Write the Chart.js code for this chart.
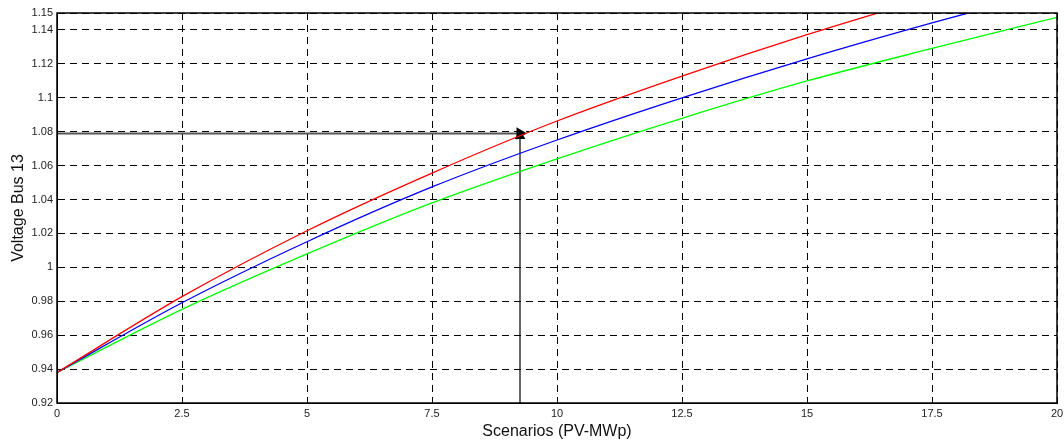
<!DOCTYPE html>
<html>
<head>
<meta charset="utf-8">
<script src="https://cdn.jsdelivr.net/npm/chart.js@4/dist/chart.umd.min.js"></script>
<style>
  body { margin: 0; background: #fff; }
  #wrap { width: 1064px; height: 441px; }
</style>
</head>
<body>
<div id="wrap"><canvas id="chart"></canvas></div>
<script>
// PV size (MWp) where the curves were read
const pvSizes = [0, 2.5, 5, 7.5, 10, 12.5, 15, 17.5, 20];

// voltage at bus 13 for the three cases
const redVolts   = [0.938, 0.9827, 1.0216, 1.0556, 1.0863, 1.1128, 1.1372, 1.1595, 1.181];
const blueVolts  = [0.938, 0.9791, 1.0151, 1.0474, 1.0751, 1.1000, 1.1230, 1.1442, 1.164];
const greenVolts = [0.938, 0.9752, 1.0079, 1.0380, 1.0640, 1.0879, 1.1099, 1.1291, 1.1474];

// marked operating point
const markX = 9.26;
const markY = 1.079;

const xTicks = [0, 2.5, 5, 7.5, 10, 12.5, 15, 17.5, 20];
const yTicks = [0.92, 0.94, 0.96, 0.98, 1, 1.02, 1.04, 1.06, 1.08, 1.1, 1.12, 1.14, 1.15];

const toPoints = (ys) => pvSizes.map((x, i) => ({ x, y: ys[i] }));

const curve = (data, color) => ({
  data: toPoints(data),
  borderColor: color,
  borderWidth: 1.3,
  pointRadius: 0,
  cubicInterpolationMode: 'monotone',
  fill: false,
});

// box around the plot area, like MATLAB "box on"
const frame = {
  id: 'frame',
  afterDraw(chart) {
    const { ctx, chartArea: a } = chart;
    ctx.save();
    ctx.strokeStyle = '#000';
    ctx.lineWidth = 1.5;
    ctx.strokeRect(a.left, a.top, a.right - a.left, a.bottom - a.top);
    ctx.restore();
  },
};

const font = { family: '"Liberation Sans", Arial, sans-serif', size: 11 };
const titleFont = { family: '"Liberation Sans", Arial, sans-serif', size: 16 };

new Chart(document.getElementById('chart'), {
  type: 'line',
  data: {
    datasets: [
      curve(redVolts, '#ff0000'),
      curve(blueVolts, '#0000ff'),
      curve(greenVolts, '#00ff00'),
      {
        // horizontal arrow to the red curve
        data: [{ x: 0, y: markY }, { x: markX, y: markY }],
        borderColor: '#555',
        borderWidth: 2,
        pointRadius: [0, 5],
        pointStyle: 'triangle',
        rotation: 90,
        pointBackgroundColor: '#000',
        pointBorderColor: '#000',
      },
      {
        // vertical arrow from the axis
        data: [{ x: markX, y: 0.92 }, { x: markX, y: markY - 0.0015 }],
        borderColor: '#000',
        borderWidth: 1.2,
        pointRadius: [0, 5],
        pointStyle: 'triangle',
        rotation: 0,
        pointBackgroundColor: '#000',
        pointBorderColor: '#000',
      },
    ],
  },
  options: {
    responsive: true,
    maintainAspectRatio: false,
    animation: false,
    layout: { padding: { top: 13, right: 0, left: 0, bottom: 0 } },
    plugins: {
      legend: { display: false },
      tooltip: { enabled: false },
    },
    scales: {
      x: {
        type: 'linear',
        min: 0,
        max: 20,
        afterBuildTicks: (s) => { s.ticks = xTicks.map((v) => ({ value: v })); },
        afterFit: (s) => { s.paddingLeft = 0; s.paddingRight = 0; s.height = 38; },
        ticks: { color: '#222', font, padding: 4, callback: (v) => String(v) },
        grid: { color: '#000', lineWidth: 1, drawTicks: false },
        border: { dash: [7, 5], color: '#000' },
        title: { display: true, text: 'Scenarios (PV-MWp)', color: '#111', font: titleFont, padding: { top: 0, bottom: 0 } },
      },
      y: {
        type: 'linear',
        min: 0.92,
        max: 1.15,
        afterBuildTicks: (s) => { s.ticks = yTicks.map((v) => ({ value: v })); },
        afterFit: (s) => { s.width = 57; },
        ticks: { color: '#222', font, padding: 4, callback: (v) => String(Number(v.toFixed(2))) },
        grid: { color: '#000', lineWidth: 1, drawTicks: false },
        border: { dash: [7, 5], color: '#000' },
        title: { display: true, text: 'Voltage Bus 13', color: '#111', font: titleFont, padding: { top: 9, bottom: 0 } },
      },
    },
  },
  plugins: [frame],
});
</script>
</body>
</html>
